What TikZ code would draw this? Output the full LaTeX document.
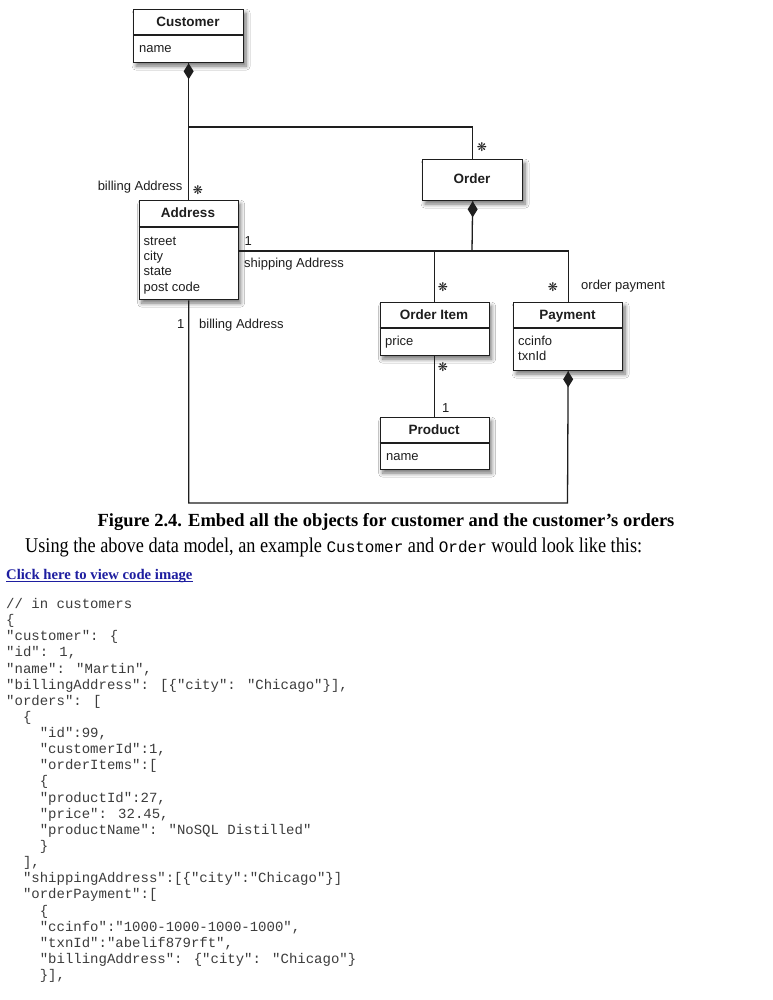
\documentclass[tikz,border=0pt]{standalone}
\usepackage{fontspec}
\setmainfont{Liberation Serif}
\newfontfamily\diagf{Liberation Sans}
\newfontfamily\codef{Liberation Mono}
\newfontfamily\bodyf[FakeStretch=0.87]{Liberation Serif}
\newfontfamily\symf{DejaVu Sans}
\usetikzlibrary{arrows.meta,shadows.blur}
\definecolor{lncol}{RGB}{30,30,30}
\definecolor{codecol}{RGB}{60,60,60}
\definecolor{linkcol}{RGB}{30,30,160}
\begin{document}
\begin{tikzpicture}[x=1pt,y=-1pt,
  cls/.style={draw=lncol, line width=1.3pt, fill=white, anchor=north west, inner sep=0pt,
    blur shadow={shadow xshift=2.5pt, shadow yshift=-3.5pt, shadow blur radius=4pt, shadow blur steps=8, shadow opacity=55}},
  ln/.style={draw=lncol, line width=1.3pt},
  ttl/.style={font=\diagf\bfseries\fontsize{13.5}{15}\selectfont, anchor=base, inner sep=0pt, text=lncol},
  attr/.style={font=\diagf\fontsize{13}{15.3}\selectfont, anchor=base west, inner sep=0pt, text=lncol},
  lbl/.style={font=\diagf\fontsize{13}{15}\selectfont, anchor=base west, inner sep=0pt, text=lncol},
  mult/.style={font=\symf\fontsize{12}{12}\selectfont, inner sep=0pt, text=lncol},
  code/.style={font=\codef\fontsize{14}{16}\selectfont, anchor=base west, inner sep=0pt, text=codecol}
]
\useasboundingbox (0,0) rectangle (772,1000);
\fill[white] (0,0) rectangle (772,1000);

% ---- class boxes
\node[cls, minimum width=110pt, minimum height=53pt] (cust) at (133,9) {};
\node[cls, minimum width=99pt, minimum height=99pt] (addr) at (138.5,200) {};
\node[cls, minimum width=100pt, minimum height=41pt] (order) at (422,159) {};
\node[cls, minimum width=109pt, minimum height=53pt] (oi) at (379.5,302) {};
\node[cls, minimum width=109pt, minimum height=68pt] (pay) at (513,302) {};
\node[cls, minimum width=109pt, minimum height=52pt] (prod) at (379.5,417) {};

% dividers
\draw[ln] (cust.west |- 0,35) -- (cust.east |- 0,35);
\draw[ln] (addr.west |- 0,227) -- (addr.east |- 0,227);
\draw[ln] (oi.west |- 0,328) -- (oi.east |- 0,328);
\draw[ln] (pay.west |- 0,328) -- (pay.east |- 0,328);
\draw[ln] (prod.west |- 0,443) -- (prod.east |- 0,443);

% titles and attributes
\node[ttl] (custT) at (188,27) {Customer};
\node[attr] (custA) at (139,53) {name};
\node[ttl] (addrT) at (188,218) {Address};
\node[attr] (addrA1) at (143.5,245) {street};
\node[attr] (addrA2) at (143.5,260.5) {city};
\node[attr] (addrA3) at (143.5,275.7) {state};
\node[attr] (addrA4) at (143.5,291) {post code};
\node[ttl] (orderT) at (472,184) {Order};
\node[ttl] (oiT) at (434,319.5) {Order Item};
\node[attr] (oiA) at (385,345) {price};
\node[ttl] (payT) at (567.5,319.5) {Payment};
\node[attr] (payA1) at (518,345) {ccinfo};
\node[attr] (payA2) at (518,360.5) {txnId};
\node[ttl] (prodT) at (434,434.5) {Product};
\node[attr] (prodA) at (386,460.5) {name};

% ---- connectors
\coordinate (j1) at (188,127);
\coordinate (j2) at (472,251);
\coordinate (j3) at (567.5,503);
\draw[ln] (cust.south) -- (addr.north);
\draw[ln] (j1) -| (order.north);
\draw[ln] (order.south) -- (j2);
\draw[ln] (addr.east |- j2) -| (pay.north);
\draw[ln] (oi.north |- j2) -- (oi.north);
\draw[ln] (oi.south) -- (prod.north);
\draw[ln] (pay.south) -- (j3) -| (addr.south);
% composition diamonds
\fill[lncol] (cust.south) -- ++(5,8) -- ++(-5,8) -- ++(-5,-8) -- cycle;
\fill[lncol] (order.south) -- ++(5,8) -- ++(-5,8) -- ++(-5,-8) -- cycle;
\fill[lncol] (pay.south) -- ++(5,8) -- ++(-5,8) -- ++(-5,-8) -- cycle;

% ---- labels and multiplicities
\node[lbl, anchor=base east] (l1) at (182.5,191) {billing Address};
\node[mult] (m1) at (198,190) {❋};
\node[mult] (m2) at (482,147) {❋};
\node[lbl] (l2) at (244.5,245.5) {1};
\node[lbl] (l3) at (244,267) {shipping Address};
\node[lbl] (l4) at (177,328.5) {1};
\node[lbl] (l5) at (199,328.5) {billing Address};
\node[mult] (m3) at (443,287) {❋};
\node[mult] (m4) at (553,287) {❋};
\node[lbl] (l6) at (581,289.5) {order payment};
\node[mult] (m5) at (443,367) {❋};
\node[lbl] (l7) at (442,412.5) {1};

% ---- caption and body text
\node[font=\bfseries\fontsize{18.5}{21}\selectfont, anchor=base, inner sep=0pt] (cap) at (386,526)
  {Figure 2.4. Embed all the objects for customer and the customer’s orders};
\node[font=\bodyf\fontsize{21}{24}\selectfont, anchor=base west, inner sep=0pt] (body) at (25,552)
  {Using the above data model, an example {\codef\fontsize{16}{18}\selectfont Customer} and {\codef\fontsize{16}{18}\selectfont Order} would look like this:};
\node[font=\bfseries\fontsize{14.7}{17}\selectfont, anchor=base west, inner sep=0pt, text=linkcol] (link) at (6,579) {Click here to view code image};
\draw[linkcol, line width=1pt] (link.base west) ++(0,2.5) -- ([yshift=-2.5pt]link.base east);

% ---- code
\node[code] (c1) at (6,608.5) {// in customers};
\node[code] (c2) at (6,624.6) {\{};
\node[code] (c3) at (6,640.8) {"customer": \{};
\node[code] (c4) at (6,656.9) {"id": 1,};
\node[code] (c5) at (6,673.0) {"name": "Martin",};
\node[code] (c6) at (6,689.2) {"billingAddress": [\{"city": "Chicago"\}],};
\node[code] (c7) at (6,705.3) {"orders": [};
\node[code] (c8) at (22.8,721.4) {\{};
\node[code] (c9) at (39.6,737.5) {"id":99,};
\node[code] (c10) at (39.6,753.7) {"customerId":1,};
\node[code] (c11) at (39.6,769.8) {"orderItems":[};
\node[code] (c12) at (39.6,785.9) {\{};
\node[code] (c13) at (39.6,802.1) {"productId":27,};
\node[code] (c14) at (39.6,818.2) {"price": 32.45,};
\node[code] (c15) at (39.6,834.3) {"productName": "NoSQL Distilled"};
\node[code] (c16) at (39.6,850.5) {\}};
\node[code] (c17) at (22.8,866.6) {],};
\node[code] (c18) at (22.8,882.7) {"shippingAddress":[\{"city":"Chicago"\}]};
\node[code] (c19) at (22.8,898.9) {"orderPayment":[};
\node[code] (c20) at (39.6,915.0) {\{};
\node[code] (c21) at (39.6,931.1) {"ccinfo":"1000-1000-1000-1000",};
\node[code] (c22) at (39.6,947.3) {"txnId":"abelif879rft",};
\node[code] (c23) at (39.6,963.4) {"billingAddress": \{"city": "Chicago"\}};
\node[code] (c24) at (39.6,979.5) {\}],};
\end{tikzpicture}
\end{document}
